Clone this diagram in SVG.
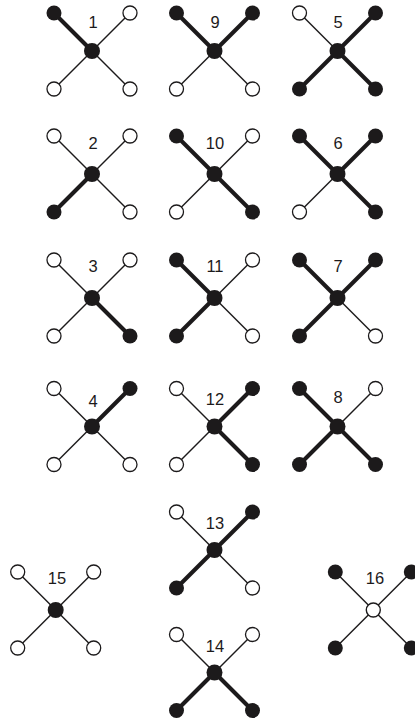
<svg xmlns="http://www.w3.org/2000/svg" width="415" height="725" viewBox="0 0 415 725">
<style>
.k{stroke:#1c1a1b;stroke-width:4}
.t{stroke:#1c1a1b;stroke-width:1.4}
.b{fill:#1c1a1b}
.o{fill:#fff;stroke:#1c1a1b;stroke-width:1.3}
.c{fill:#1c1a1b}
.co{fill:#fff;stroke:#1c1a1b;stroke-width:1.4}
text{font-family:"Liberation Sans",Arial,sans-serif;font-size:16.5px;fill:#1c1a1b;text-anchor:middle}
</style>
<rect width="415" height="725" fill="#fff"/>
<g id="connectors">
<line class="k" x1="92" y1="51" x2="54" y2="13"/><line class="t" x1="92" y1="51" x2="130" y2="13"/><line class="t" x1="92" y1="51" x2="54" y2="89"/><line class="t" x1="92" y1="51" x2="130" y2="89"/>
<line class="k" x1="214.5" y1="51" x2="176.5" y2="13"/><line class="k" x1="214.5" y1="51" x2="252.5" y2="13"/><line class="t" x1="214.5" y1="51" x2="176.5" y2="89"/><line class="t" x1="214.5" y1="51" x2="252.5" y2="89"/>
<line class="t" x1="337.5" y1="51" x2="299.5" y2="13"/><line class="k" x1="337.5" y1="51" x2="375.5" y2="13"/><line class="k" x1="337.5" y1="51" x2="299.5" y2="89"/><line class="k" x1="337.5" y1="51" x2="375.5" y2="89"/>
<line class="t" x1="92" y1="174" x2="54" y2="136"/><line class="t" x1="92" y1="174" x2="130" y2="136"/><line class="k" x1="92" y1="174" x2="54" y2="212"/><line class="t" x1="92" y1="174" x2="130" y2="212"/>
<line class="k" x1="214.5" y1="174" x2="176.5" y2="136"/><line class="t" x1="214.5" y1="174" x2="252.5" y2="136"/><line class="t" x1="214.5" y1="174" x2="176.5" y2="212"/><line class="k" x1="214.5" y1="174" x2="252.5" y2="212"/>
<line class="k" x1="337.5" y1="174" x2="299.5" y2="136"/><line class="k" x1="337.5" y1="174" x2="375.5" y2="136"/><line class="t" x1="337.5" y1="174" x2="299.5" y2="212"/><line class="k" x1="337.5" y1="174" x2="375.5" y2="212"/>
<line class="t" x1="92" y1="298" x2="54" y2="260"/><line class="t" x1="92" y1="298" x2="130" y2="260"/><line class="t" x1="92" y1="298" x2="54" y2="336"/><line class="k" x1="92" y1="298" x2="130" y2="336"/>
<line class="k" x1="214.5" y1="298" x2="176.5" y2="260"/><line class="t" x1="214.5" y1="298" x2="252.5" y2="260"/><line class="k" x1="214.5" y1="298" x2="176.5" y2="336"/><line class="t" x1="214.5" y1="298" x2="252.5" y2="336"/>
<line class="k" x1="337.5" y1="298" x2="299.5" y2="260"/><line class="k" x1="337.5" y1="298" x2="375.5" y2="260"/><line class="k" x1="337.5" y1="298" x2="299.5" y2="336"/><line class="t" x1="337.5" y1="298" x2="375.5" y2="336"/>
<line class="t" x1="92" y1="426.5" x2="54" y2="388.5"/><line class="k" x1="92" y1="426.5" x2="130" y2="388.5"/><line class="t" x1="92" y1="426.5" x2="54" y2="464.5"/><line class="t" x1="92" y1="426.5" x2="130" y2="464.5"/>
<line class="t" x1="214.5" y1="426.5" x2="176.5" y2="388.5"/><line class="k" x1="214.5" y1="426.5" x2="252.5" y2="388.5"/><line class="t" x1="214.5" y1="426.5" x2="176.5" y2="464.5"/><line class="k" x1="214.5" y1="426.5" x2="252.5" y2="464.5"/>
<line class="k" x1="337.5" y1="426.5" x2="299.5" y2="388.5"/><line class="t" x1="337.5" y1="426.5" x2="375.5" y2="388.5"/><line class="k" x1="337.5" y1="426.5" x2="299.5" y2="464.5"/><line class="k" x1="337.5" y1="426.5" x2="375.5" y2="464.5"/>
<line class="t" x1="214.5" y1="550" x2="176.5" y2="512"/><line class="k" x1="214.5" y1="550" x2="252.5" y2="512"/><line class="k" x1="214.5" y1="550" x2="176.5" y2="588"/><line class="t" x1="214.5" y1="550" x2="252.5" y2="588"/>
<line class="t" x1="214.5" y1="672.5" x2="176.5" y2="634.5"/><line class="t" x1="214.5" y1="672.5" x2="252.5" y2="634.5"/><line class="k" x1="214.5" y1="672.5" x2="176.5" y2="710.5"/><line class="k" x1="214.5" y1="672.5" x2="252.5" y2="710.5"/>
<line class="t" x1="55.7" y1="610" x2="17.7" y2="572"/><line class="t" x1="55.7" y1="610" x2="93.7" y2="572"/><line class="t" x1="55.7" y1="610" x2="17.7" y2="648"/><line class="t" x1="55.7" y1="610" x2="93.7" y2="648"/>
<line class="t" x1="373.3" y1="610" x2="335.3" y2="572"/><line class="t" x1="373.3" y1="610" x2="411.3" y2="572"/><line class="t" x1="373.3" y1="610" x2="335.3" y2="648"/><line class="t" x1="373.3" y1="610" x2="411.3" y2="648"/>
</g>
<g id="x1"><circle class="b" cx="54" cy="13" r="7.5"/><circle class="o" cx="130" cy="13" r="7"/><circle class="o" cx="54" cy="89" r="7"/><circle class="o" cx="130" cy="89" r="7"/><circle class="c" cx="92" cy="51" r="8"/><text x="93" y="28">1</text></g>
<g id="x9"><circle class="b" cx="176.5" cy="13" r="7.5"/><circle class="b" cx="252.5" cy="13" r="7.5"/><circle class="o" cx="176.5" cy="89" r="7"/><circle class="o" cx="252.5" cy="89" r="7"/><circle class="c" cx="214.5" cy="51" r="8"/><text x="215" y="28">9</text></g>
<g id="x5"><circle class="o" cx="299.5" cy="13" r="7"/><circle class="b" cx="375.5" cy="13" r="7.5"/><circle class="b" cx="299.5" cy="89" r="7.5"/><circle class="b" cx="375.5" cy="89" r="7.5"/><circle class="c" cx="337.5" cy="51" r="8"/><text x="338" y="28">5</text></g>
<g id="x2"><circle class="o" cx="54" cy="136" r="7"/><circle class="o" cx="130" cy="136" r="7"/><circle class="b" cx="54" cy="212" r="7.5"/><circle class="o" cx="130" cy="212" r="7"/><circle class="c" cx="92" cy="174" r="8"/><text x="93" y="149">2</text></g>
<g id="x10"><circle class="b" cx="176.5" cy="136" r="7.5"/><circle class="o" cx="252.5" cy="136" r="7"/><circle class="o" cx="176.5" cy="212" r="7"/><circle class="b" cx="252.5" cy="212" r="7.5"/><circle class="c" cx="214.5" cy="174" r="8"/><text x="215" y="149">10</text></g>
<g id="x6"><circle class="b" cx="299.5" cy="136" r="7.5"/><circle class="b" cx="375.5" cy="136" r="7.5"/><circle class="o" cx="299.5" cy="212" r="7"/><circle class="b" cx="375.5" cy="212" r="7.5"/><circle class="c" cx="337.5" cy="174" r="8"/><text x="338" y="149">6</text></g>
<g id="x3"><circle class="o" cx="54" cy="260" r="7"/><circle class="o" cx="130" cy="260" r="7"/><circle class="o" cx="54" cy="336" r="7"/><circle class="b" cx="130" cy="336" r="7.5"/><circle class="c" cx="92" cy="298" r="8"/><text x="93" y="272">3</text></g>
<g id="x11"><circle class="b" cx="176.5" cy="260" r="7.5"/><circle class="o" cx="252.5" cy="260" r="7"/><circle class="b" cx="176.5" cy="336" r="7.5"/><circle class="o" cx="252.5" cy="336" r="7"/><circle class="c" cx="214.5" cy="298" r="8"/><text x="215" y="272">11</text></g>
<g id="x7"><circle class="b" cx="299.5" cy="260" r="7.5"/><circle class="b" cx="375.5" cy="260" r="7.5"/><circle class="b" cx="299.5" cy="336" r="7.5"/><circle class="o" cx="375.5" cy="336" r="7"/><circle class="c" cx="337.5" cy="298" r="8"/><text x="338" y="272">7</text></g>
<g id="x4"><circle class="o" cx="54" cy="388.5" r="7"/><circle class="b" cx="130" cy="388.5" r="7.5"/><circle class="o" cx="54" cy="464.5" r="7"/><circle class="o" cx="130" cy="464.5" r="7"/><circle class="c" cx="92" cy="426.5" r="8"/><text x="93" y="407">4</text></g>
<g id="x12"><circle class="o" cx="176.5" cy="388.5" r="7"/><circle class="b" cx="252.5" cy="388.5" r="7.5"/><circle class="o" cx="176.5" cy="464.5" r="7"/><circle class="b" cx="252.5" cy="464.5" r="7.5"/><circle class="c" cx="214.5" cy="426.5" r="8"/><text x="215" y="405">12</text></g>
<g id="x8"><circle class="b" cx="299.5" cy="388.5" r="7.5"/><circle class="o" cx="375.5" cy="388.5" r="7"/><circle class="b" cx="299.5" cy="464.5" r="7.5"/><circle class="b" cx="375.5" cy="464.5" r="7.5"/><circle class="c" cx="337.5" cy="426.5" r="8"/><text x="338" y="403">8</text></g>
<g id="x13"><circle class="o" cx="176.5" cy="512" r="7"/><circle class="b" cx="252.5" cy="512" r="7.5"/><circle class="b" cx="176.5" cy="588" r="7.5"/><circle class="o" cx="252.5" cy="588" r="7"/><circle class="c" cx="214.5" cy="550" r="8"/><text x="215" y="529">13</text></g>
<g id="x14"><circle class="o" cx="176.5" cy="634.5" r="7"/><circle class="o" cx="252.5" cy="634.5" r="7"/><circle class="b" cx="176.5" cy="710.5" r="7.5"/><circle class="b" cx="252.5" cy="710.5" r="7.5"/><circle class="c" cx="214.5" cy="672.5" r="8"/><text x="215" y="651.5">14</text></g>
<g id="x15"><circle class="o" cx="17.7" cy="572" r="7"/><circle class="o" cx="93.7" cy="572" r="7"/><circle class="o" cx="17.7" cy="648" r="7"/><circle class="o" cx="93.7" cy="648" r="7"/><circle class="c" cx="55.7" cy="610" r="8"/><text x="57" y="583.5">15</text></g>
<g id="x16"><circle class="b" cx="335.3" cy="572" r="7.5"/><circle class="b" cx="411.3" cy="572" r="7.5"/><circle class="b" cx="335.3" cy="648" r="7.5"/><circle class="b" cx="411.3" cy="648" r="7.5"/><circle class="co" cx="373.3" cy="610" r="7"/><text x="375" y="583.5">16</text></g>
</svg>
